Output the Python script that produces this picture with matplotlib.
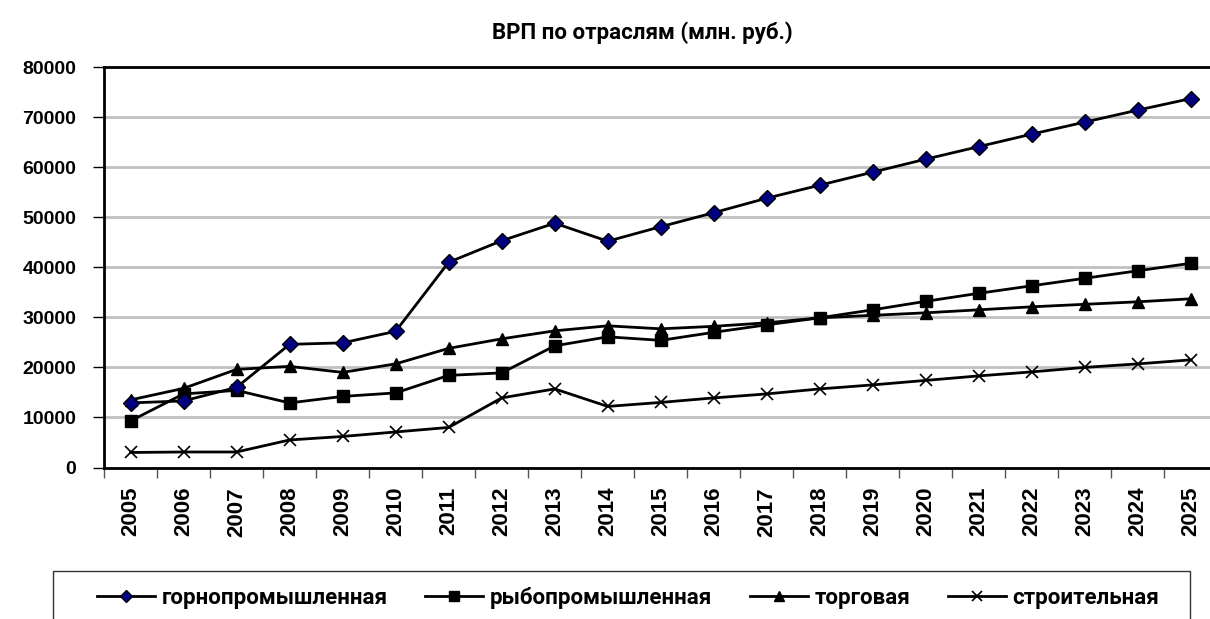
import matplotlib
matplotlib.use("Agg")
import matplotlib.pyplot as plt
from matplotlib.patches import Rectangle
from matplotlib.ticker import MultipleLocator, FixedLocator

years = [str(y) for y in range(2005, 2026)]

# values, mln rub
mining = [12900, 13300, 16000, 24600, 24900, 27200, 41000, 45300, 48800, 45200,
          48100, 50900, 53800, 56400, 59000, 61600, 64100, 66600, 69000, 71400, 73700]
fishing = [9300, 14700, 15400, 12900, 14200, 14900, 18400, 18900, 24300, 26100,
           25400, 27000, 28500, 29900, 31500, 33200, 34800, 36300, 37800, 39300, 40800]
trade = [13500, 15800, 19600, 20200, 19000, 20700, 23800, 25700, 27300, 28300,
         27700, 28200, 28900, 29900, 30400, 30900, 31500, 32100, 32600, 33100, 33700]
construction = [3000, 3100, 3100, 5500, 6200, 7100, 8000, 13900, 15700, 12200,
                13000, 13900, 14700, 15700, 16500, 17400, 18300, 19100, 20000, 20700, 21500]

labels = ["горнопромышленная", "рыбопромышленная", "торговая", "строительная"]
title = "ВРП по отраслям (млн. руб.)"

TICK_FONT = "Liberation Sans"
TEXT_FONT = "Roboto"
W, H = 1210, 619
fig = plt.figure(figsize=(W / 100, H / 100), dpi=100)
ax = fig.add_axes([104 / W, (H - 467.5) / H, 1113.5 / W, 400.5 / H])

x = list(range(len(years)))
lw = 2.0
ax.plot(x, mining, color="black", lw=lw, marker="D", ms=8, mfc="#000080",
        mec="black", mew=1, label=labels[0], zorder=5)
ax.plot(x, fishing, color="black", lw=lw, marker="s", ms=9, mfc="black",
        mec="black", label=labels[1], zorder=4)
ax.plot(x, trade, color="black", lw=lw, marker="^", ms=9, mfc="black",
        mec="black", label=labels[2], zorder=4)
ax.plot(x, construction, color="black", lw=lw, marker="x", ms=9, mew=1.2,
        label=labels[3], zorder=4)

ax.set_xlim(-0.5, len(years) - 0.5)
ax.set_ylim(0, 80000)
ax.yaxis.set_major_locator(MultipleLocator(10000))
ax.grid(axis="y", color="#c0c0c0", lw=2)
ax.set_axisbelow(True)

ax.set_xticks(x)
ax.set_xticklabels(years, rotation=90, fontsize=16, fontweight="bold", family=TICK_FONT)
ax.xaxis.set_minor_locator(FixedLocator([i - 0.5 for i in range(len(years) + 1)]))
ax.tick_params(axis="x", which="major", length=0, pad=14)
ax.tick_params(axis="x", which="minor", length=7, width=1, color="#555555", direction="out")
ax.tick_params(axis="y", length=8, width=1, direction="out", pad=12)
for lab in ax.get_yticklabels():
    lab.set_fontsize(14)
    lab.set_fontweight("bold")
    lab.set_family(TICK_FONT)

for s in ax.spines.values():
    s.set_linewidth(2)
    s.set_color("black")

fig.text(642 / W, 1 - 33 / H, title, ha="center", va="center",
         fontsize=16, fontweight="bold", family=TEXT_FONT)

# legend frame drawn separately so its size matches the reference box
fig.patches.append(Rectangle((53 / W, 1 - 625 / H), 1137 / W, 54 / H,
                             transform=fig.transFigure, fill=False,
                             edgecolor="#333333", lw=1))
leg = fig.legend(loc="center left", bbox_to_anchor=(88 / W, 1 - 598 / H, 1080 / W, 0),
                 mode="expand", ncol=4, frameon=False,
                 prop={"family": TEXT_FONT, "weight": "bold", "size": 16},
                 handlelength=2.6, handletextpad=0.3, borderaxespad=0,
                 markerscale=0.75)

fig.savefig("out.png", dpi=100)
